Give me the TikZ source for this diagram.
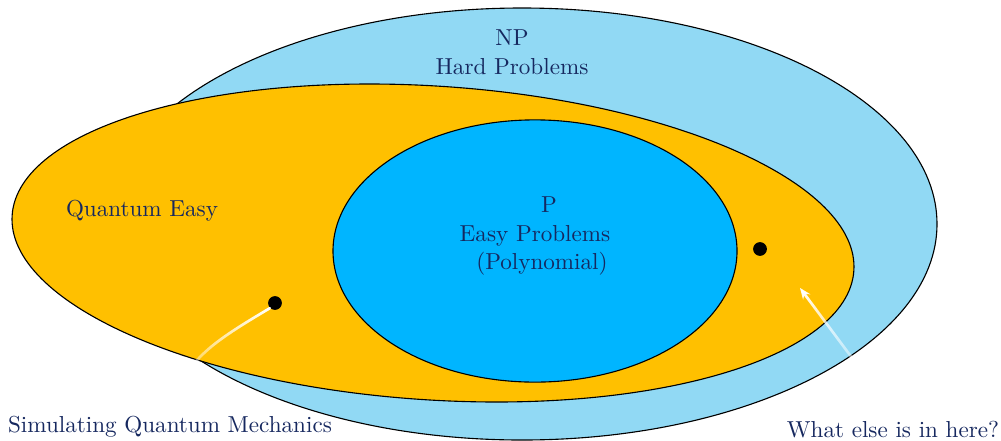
\documentclass[tikz,border=0pt]{standalone}
\usetikzlibrary{arrows.meta,fadings}
\definecolor{npblue}{RGB}{145,217,244}
\definecolor{qyellow}{RGB}{255,192,0}
\definecolor{pblue}{RGB}{0,181,255}
\definecolor{txtblue}{RGB}{22,40,95}
\begin{document}
\begin{tikzpicture}[x=0.45pt,y=-0.45pt,
  region/.style={draw=black,line width=0.5pt},
  lbl/.style={text=txtblue,align=center,font=\fontsize{10.4}{13}\selectfont,inner sep=0pt},
  dot/.style={circle,fill=black,inner sep=0pt,minimum size=6.2pt},
  pointer/.style={draw=white,line width=1.2pt,path fading=south}]
\useasboundingbox (0,0) rectangle (1001,440);
% regions
\coordinate (npc) at (522,224);
\coordinate (qc) at (433,243);
\coordinate (pc) at (535,251);
\path[region,fill=npblue] (npc) ellipse [x radius=186.75pt, y radius=97.2pt];
\path[region,fill=qyellow,rotate around={-3.76:(qc)}] (qc) ellipse [x radius=189.8pt, y radius=70.6pt];
\path[region,fill=pblue] (pc) ellipse [x radius=90.9pt, y radius=59pt];
% labels
\node[lbl] (np) at (512,52) {NP\\Hard Problems};
\node[lbl] (qe) at (142,211) {Quantum Easy};
\node[lbl] (p) at (535,236) {\hspace*{1.2em}P\\Easy Problems\\\hspace*{0.6em}(Polynomial)};
\node[lbl] (sim) at (170,427) {Simulating Quantum Mechanics};
\node[lbl] (what) at (893,430) {What else is in here?};
% dots
\node[dot] (d1) at (275,303) {};
\node[dot] (d2) at (760,249) {};
% pointers
\coordinate (s1) at (181,396);
\coordinate (e2) at (800,288);
\coordinate (s2) at (893,413);
\draw[pointer,line cap=round] (s1) .. controls (182,360) and (225,335) .. (d1.south west);
\draw[pointer,-{Stealth[length=5pt,width=4pt]}] (s2) -- (e2);
\end{tikzpicture}
\end{document}
